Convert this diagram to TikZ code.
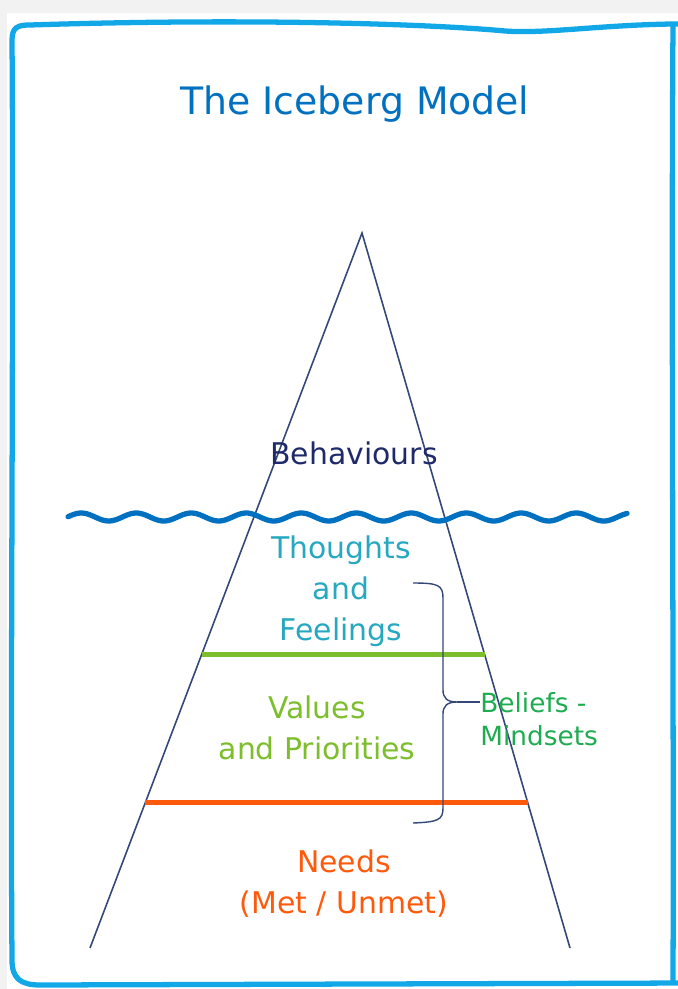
\documentclass[tikz,border=0pt]{standalone}
\usepackage{fontspec}
\setmainfont{DejaVu Sans}
\usetikzlibrary{positioning,calc}
\definecolor{framecyan}{RGB}{18,168,232}
\definecolor{titleblue}{RGB}{0,112,192}
\definecolor{edgenavy}{RGB}{52,72,120}
\definecolor{behavnavy}{RGB}{31,42,107}
\definecolor{thoughtteal}{RGB}{38,168,192}
\definecolor{valuegreen}{RGB}{124,190,44}
\definecolor{needorange}{RGB}{255,90,12}
\definecolor{beliefgreen}{RGB}{30,172,80}
\tikzset{
    every node/.style={inner sep=0pt},
    layertext/.style={align=center, font=\fontsize{17}{23.3}\selectfont},
    edge/.style={draw=edgenavy, line width=0.9pt},
    level/.style={line width=3pt},
    wave/.style={draw=titleblue, line width=3pt, line cap=round},
}

\begin{document}
\begin{tikzpicture}[x=0.02cm, y=-0.02cm]
\useasboundingbox (0,0) rectangle (678,989);
\clip (0,0) rectangle (678,989);
% page and hand drawn frame
\fill[white] (0,0) rectangle (678,989);
\fill[black!5] (0,0) rectangle (678,13);
\fill[black!5] (0,0) rectangle (7,989);
\draw[framecyan, line width=3pt, line join=round]
    (690,24) -- (673,24) .. controls (600,25) and (545,34) .. (505,31)
    .. controls (430,24) and (250,18) .. (30,25)
    .. controls (18,25) and (12,27) .. (12,40)
    .. controls (14,300) and (10,700) .. (12,960)
    .. controls (12,978) and (20,985) .. (40,985)
    -- (690,983);
\draw[framecyan, line width=3pt, line join=round]
    (673,24) .. controls (671,300) and (674,700) .. (673,983);

% title
\node[text=titleblue, font=\fontsize{21.5}{26}\selectfont] (title) at (355,104) {The Iceberg Model};

% the iceberg
\coordinate (apex) at (362,233);
\coordinate (footL) at (90,948);
\coordinate (footR) at (570,948);
\draw[edge] (footL) -- (apex) -- (footR);

% water line
\draw[wave] plot[domain=68:627, samples=240, smooth] (\x, {517+4*sin((\x-40)/55*360)});

% layer borders
\coordinate (gL) at ($(apex)!0.590!(footL)$);
\coordinate (gR) at ($(apex)!0.590!(footR)$);
\coordinate (oL) at ($(apex)!0.797!(footL)$);
\coordinate (oR) at ($(apex)!0.797!(footR)$);
\draw[level, valuegreen] (gL) -- (gR);
\draw[level, needorange] (oL) -- (oR);

% layers
\node[layertext, text=behavnavy] (behav) at (354,453) {Behaviours};
\node[layertext, text=thoughtteal] (thought) at (341,591) {Thoughts\\and\\Feelings};
\node[layertext, text=valuegreen] (value) at (317,728) {Values\\and Priorities};
\node[layertext, text=needorange] (need) at (344,884) {Needs\\(Met / Unmet)};

% beliefs brace
\node[anchor=west, align=left, text=beliefgreen, font=\fontsize{15}{18.7}\selectfont] (belief) at (480,719) {Beliefs -\\Mindsets};
\coordinate (tip) at (belief.west |- 0,702);
\draw[edge, line width=0.8pt] (413,583) .. controls (438,583) and (443,585) .. (443,598)
    -- (443,690) .. controls (443,698) and (447,702) .. (457,702)
    .. controls (447,702) and (443,706) .. (443,714)
    -- (443,808) .. controls (443,820) and (438,822) .. (413,823);
\draw[edge, line width=0.8pt] (457,702) -- (tip);
\end{tikzpicture}
\end{document}
